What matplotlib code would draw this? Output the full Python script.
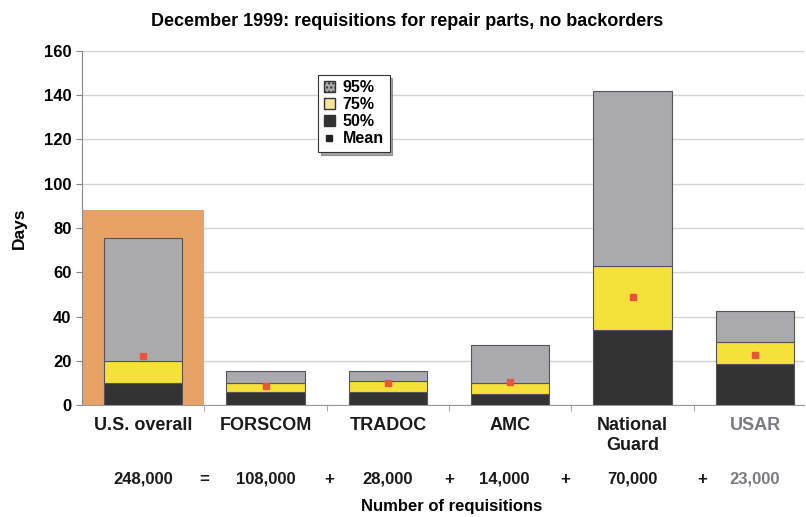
import numpy as np
import matplotlib.pyplot as plt
from matplotlib.patches import Patch
from matplotlib.lines import Line2D

plt.rcParams['font.family'] = ['Liberation Sans', 'DejaVu Sans']
plt.rcParams['font.weight'] = 'bold'

# data
categories = ['U.S. overall', 'FORSCOM', 'TRADOC', 'AMC', 'National\nGuard', 'USAR']
p50 = [10, 6, 6, 5, 34, 18.5]
p75 = [20, 10, 11, 10, 63, 28.5]
p95 = [75.5, 15.5, 15.5, 27, 142, 42.5]
mean = [22, 8.5, 10, 10.5, 49, 22.5]
requisitions = ['248,000', '108,000', '28,000', '14,000', '70,000', '23,000']
operators = ['=', '+', '+', '+', '+']
overall_box = 88

fig = plt.figure(figsize=(8.06, 5.17), dpi=100)
ax = fig.add_axes([0.1017, 0.2166, 0.8958, 0.6848])

x = np.arange(len(categories))
w = 0.64
gray = '#aaa9ad'
yellow = '#f6e03a'
dark = '#343334'
edge = '#555555'

# orange highlight behind the overall bar
ax.bar(0, overall_box, width=1.0, color='#e9a266', zorder=1)

lo75 = np.array(p50)
lo95 = np.array(p75)
ax.bar(x, p50, width=w, color=dark, edgecolor=edge, linewidth=0.8, zorder=3)
ax.bar(x, np.array(p75) - lo75, bottom=lo75, width=w, color=yellow,
       edgecolor=edge, linewidth=0.8, zorder=3)
ax.bar(x, np.array(p95) - lo95, bottom=lo95, width=w, color=gray,
       edgecolor=edge, linewidth=0.8, zorder=3)
ax.plot(x, mean, linestyle='none', marker='s', markersize=4.5,
        color='#e8553c', zorder=4)

ax.set_xlim(-0.5, 5.4)
ax.set_ylim(0, 160)
ax.set_yticks(range(0, 161, 20))
ax.tick_params(axis='y', labelsize=12, length=4, color='#888888')
ax.yaxis.grid(True, color='#d4d4d4', linewidth=1)
ax.set_axisbelow(True)
ax.set_xticks(np.arange(0.5, 5, 1))
ax.set_xticklabels([])
ax.tick_params(axis='x', length=4, color='#aaaaaa')
for s in ['top', 'right']:
    ax.spines[s].set_visible(False)
ax.spines['left'].set_color('#888888')
ax.spines['bottom'].set_color('#999999')
ax.set_ylabel('Days', fontsize=12.5, fontweight='bold', labelpad=12)

# category labels and requisition counts below the axis
trans = ax.get_xaxis_transform()
for i, (c, n) in enumerate(zip(categories, requisitions)):
    col = '#7a7a80' if c == 'USAR' else '#1a1a1a'
    ax.text(i, -0.035, c, transform=trans, ha='center', va='top',
            fontsize=13, fontweight='bold', color=col, linespacing=1.2)
    ax.text(i + (0.0 if i != 3 else -0.05), -0.21, n, transform=trans, ha='center',
            va='center', fontsize=12, fontweight='bold', color=col)
op_pos = [0.5, 1.52, 2.5, 3.45, 4.57]
for p, o in zip(op_pos, operators):
    ax.text(p, -0.21, o, transform=trans, ha='center', va='center',
            fontsize=12, fontweight='bold', color='#1a1a1a')
fig.text(0.56, 0.006, 'Number of requisitions', ha='center', va='bottom',
         fontsize=12, fontweight='bold')

fig.suptitle('December 1999: requisitions for repair parts, no backorders',
             x=0.505, y=0.975, fontsize=13, fontweight='bold')

handles = [Patch(facecolor=gray, edgecolor='#333333', hatch='....'),
           Patch(facecolor='#f7e39a', edgecolor='#333333'),
           Patch(facecolor=dark, edgecolor=dark),
           Line2D([], [], linestyle='none', marker='s', markersize=4, color='#222222')]
leg = ax.legend(handles, ['95%', '75%', '50%', 'Mean'], loc='upper left',
                bbox_to_anchor=(0.316, 0.955), fontsize=11.5, frameon=True,
                fancybox=False, shadow=True, handlelength=0.7, handleheight=0.7,
                handletextpad=0.5, labelspacing=0.12, borderpad=0.35)
leg.get_frame().set_edgecolor('#333333')
leg.get_frame().set_linewidth(0.8)
leg.set_zorder(6)

fig.savefig('out.png', dpi=100)
